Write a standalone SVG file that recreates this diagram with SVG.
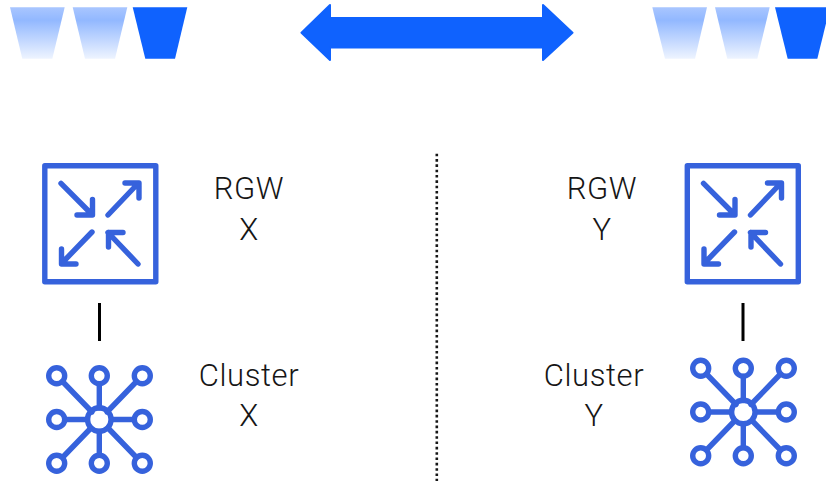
<svg xmlns="http://www.w3.org/2000/svg" width="826" height="486" viewBox="0 0 826 486">
<style>
.ic{fill:none;stroke:#3662dc;stroke-width:5.400;stroke-linecap:round;stroke-linejoin:round}
.sq{fill:none;stroke:#3662dc;stroke-width:5.400;stroke-linejoin:round}
.t{font-family:"Roboto","Liberation Sans",sans-serif;font-weight:300;font-size:31px;fill:#161616;text-anchor:middle;letter-spacing:.6px}
.bar{stroke:#000;stroke-width:3;fill:none}
</style>
<defs>
<linearGradient id="g" x1="0" y1="0" x2="0" y2="1">
<stop offset="0" stop-color="#a9c6ff"/><stop offset=".25" stop-color="#92b8ff"/><stop offset="1" stop-color="#eef4ff"/>
</linearGradient>
<g id="router">
<rect class="sq" x="44.800" y="165.800" width="111" height="116"/>
<path class="ic" d="M61 183.300L91.500 214M77 215H92.500V199.500M108 215L138 183.500M125 183H139V198M92 232L62 263M61.500 249V264H76M138 264L108 232.500M108.500 247V232.500H123"/>
</g>
<g id="cluster">
<path class="ic" d="M62.500 381.500L92 412M99.300 384V408M136.500 381.500L107 412M65 419.500H87.500M111.500 419.500H134M62.500 457.500L91 428M99.300 431.500V455M136.500 457.500L108 428"/>
<circle class="ic" cx="99.300" cy="419.500" r="11.800"/>
<circle class="ic" cx="56.700" cy="375.700" r="8"/><circle class="ic" cx="99.300" cy="375.700" r="8"/><circle class="ic" cx="142.300" cy="375.700" r="8"/>
<circle class="ic" cx="56.700" cy="419.500" r="8"/><circle class="ic" cx="142.300" cy="419.500" r="8"/>
<circle class="ic" cx="56.700" cy="463.300" r="8"/><circle class="ic" cx="99.300" cy="463.300" r="8"/><circle class="ic" cx="142.300" cy="463.300" r="8"/>
</g>
</defs>
<g id="queue-left">
<path fill="url(#g)" d="M10 7.300H64.700L52.300 58.700H22.300Z"/>
<path fill="url(#g)" d="M72.700 7.300H127.300L115 58.700H85Z"/>
<path fill="#0f62fe" d="M132.700 7.300H187.300L175 58.700H145.300Z"/>
</g>
<g id="queue-right">
<path fill="url(#g)" d="M652.300 7.300H707L695 58.700H665Z"/>
<path fill="url(#g)" d="M715 7.300H769.700L757.300 58.700H727.300Z"/>
<path fill="#0f62fe" d="M775 7.300H830L817.300 58.700H787.700Z"/>
</g>
<g id="connectors">
<path fill="#0f62fe" stroke="#0f62fe" stroke-width="2" stroke-linejoin="round" d="M301.500 32.700L330 5V18H543V5L572.500 32.700L543 60V47.500H330V60Z"/>
<path class="bar" d="M99.500 303V341M743 303V341"/>
<path d="M436.800 153.700V481" fill="none" stroke="#161616" stroke-width="2.600" stroke-dasharray="2.600 2.730"/>
</g>
<g id="rgw-x"><use href="#router"/><text class="t" x="249" y="199">RGW</text><text class="t" x="249" y="240">X</text></g>
<g id="cluster-x"><use href="#cluster"/><text class="t" x="249" y="386">Cluster</text><text class="t" x="249" y="426">X</text></g>
<g id="rgw-y"><use href="#router" x="642.500"/><text class="t" x="602" y="199">RGW</text><text class="t" x="602" y="240">Y</text></g>
<g id="cluster-y"><use href="#cluster" x="644" y="-7.500"/><text class="t" x="594" y="386">Cluster</text><text class="t" x="594" y="426">Y</text></g>
</svg>
